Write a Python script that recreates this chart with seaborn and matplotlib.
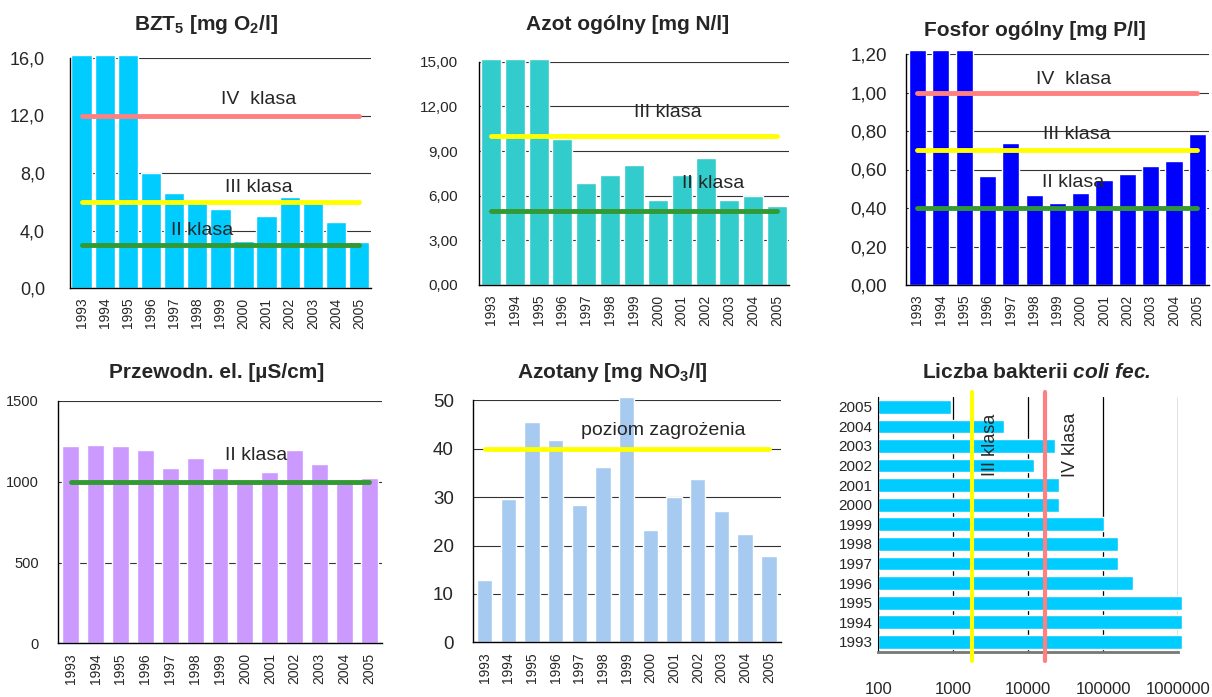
import numpy as np
import matplotlib
matplotlib.use('Agg')
import matplotlib.pyplot as plt
from matplotlib.ticker import FixedLocator, NullLocator
import seaborn as sns

# data
years = ['1993', '1994', '1995', '1996', '1997', '1998', '1999',
         '2000', '2001', '2002', '2003', '2004', '2005']

bzt5 = [16.2, 16.2, 16.2, 8.0, 6.6, 5.95, 5.5, 3.3, 5.0, 6.3, 5.9, 4.6, 3.2]
azot = [15.2, 15.2, 15.2, 9.8, 6.85, 7.4, 8.05, 5.7, 7.4, 8.5, 5.7, 5.95, 5.3]
fosfor = [1.22, 1.22, 1.22, 0.565, 0.74, 0.47, 0.425, 0.48, 0.545, 0.575, 0.62, 0.645, 0.785]
przew = [1221, 1228, 1221, 1197, 1085, 1147, 1085, 1000, 1060, 1197, 1110, 1000, 1023]
azotany = [12.9, 29.6, 45.5, 41.8, 28.4, 36.2, 50.7, 23.2, 30.0, 33.7, 27.1, 22.4, 17.8]
coli = [1120000, 1120000, 1120000, 249000, 157000, 157000, 102000,
        25600, 25600, 11900, 22700, 4740, 930]

# class limits
bzt5_limits = [12, 6, 3]
azot_limits = [10, 5]
fosfor_limits = [1.0, 0.7, 0.4]
przew_limits = [1000]
azotany_limits = [40]
coli_limits = [1750, 16900]

bzt5_ticks = [0, 4, 8, 12, 16]
bzt5_labels = ['0,0', '4,0', '8,0', '12,0', '16,0']
azot_ticks = [0, 3, 6, 9, 12, 15]
azot_labels = ['0,00', '3,00', '6,00', '9,00', '12,00', '15,00']
fosfor_ticks = [0, 0.2, 0.4, 0.6, 0.8, 1.0, 1.2]
fosfor_labels = ['0,00', '0,20', '0,40', '0,60', '0,80', '1,00', '1,20']
przew_ticks = [0, 500, 1000, 1500]
azotany_ticks = [0, 10, 20, 30, 40, 50]
coli_ticks = [100, 1000, 10000, 100000, 1000000]
coli_labels = ['100', '1000', '10000', '100000', '1000000']

sns.set_style('white')
plt.rcParams['font.family'] = ['Liberation Sans', 'DejaVu Sans']
plt.rcParams['mathtext.fontset'] = 'custom'
plt.rcParams['mathtext.rm'] = 'Liberation Sans'
plt.rcParams['mathtext.it'] = 'Liberation Sans:italic'
plt.rcParams['mathtext.bf'] = 'Liberation Sans:bold'
plt.rcParams['mathtext.bfit'] = 'Liberation Sans:italic:bold'

PINK = '#FF8080'
YELLOW = '#FFFF00'
GREEN = '#339933'
W, H = 1212, 697

fig = plt.figure(figsize=(12.12, 6.97), dpi=100)


def box(l, t, r, b):
    return [l / W, 1 - b / H, (r - l) / W, (b - t) / H]


def title(x, y, s):
    fig.text(x / W, 1 - y / H, s, ha='center', va='center', fontsize=15, fontweight='bold')


def vbars(ax, vals, color, width, ticks, ticklabels, top, limits, limit_colors, ytick_fs, ypad, ydir):
    sns.barplot(x=years, y=vals, color=color, saturation=1, width=width, ax=ax)
    for p in ax.patches:
        p.set_clip_on(False)
    for v, c in zip(limits, limit_colors):
        ax.plot([years[0], years[-1]], [v, v], color=c, lw=3.5, solid_capstyle='round', zorder=3)
    ax.set_xlim(-0.5, 12.5)
    ax.set_ylim(0, top)
    ax.set_yticks(ticks)
    ax.set_yticklabels(ticklabels)
    ax.xaxis.set_minor_locator(FixedLocator(np.arange(-0.5, 13, 1)))
    ax.tick_params(axis='x', which='major', length=0, pad=7, labelsize=10, labelrotation=90)
    ax.tick_params(axis='x', which='minor', length=6, direction='inout', width=1)
    ax.tick_params(axis='y', length=9, direction=ydir, width=1, pad=ypad, labelsize=ytick_fs)
    ax.yaxis.grid(True, color='#333333', lw=0.8)
    ax.set_axisbelow(True)
    ax.spines[['top', 'right']].set_visible(False)
    for s in ['left', 'bottom']:
        ax.spines[s].set_color('black')
        ax.spines[s].set_linewidth(1)
    ax.set_xlabel('')
    ax.set_ylabel('')


# BZT5
ax1 = fig.add_axes(box(70, 58, 370.7, 288))
vbars(ax1, bzt5, '#00CCFF', 0.88, bzt5_ticks, bzt5_labels, 16, bzt5_limits,
      [PINK, YELLOW, GREEN], 13, 9, 'out')
ax1.text(7.66, 13.1, 'IV  klasa', ha='center', va='center', fontsize=14)
ax1.text(7.66, 7.0, 'III klasa', ha='center', va='center', fontsize=14)
ax1.text(5.22, 4.0, 'II klasa', ha='center', va='center', fontsize=14)
title(206, 25, r'BZT$_\mathbf{5}$ [mg O$_\mathbf{2}$/l]')

# Azot ogolny
ax2 = fig.add_axes(box(479, 61.7, 789, 285))
vbars(ax2, azot, '#33CCCC', 0.84, azot_ticks, azot_labels, 15, azot_limits,
      [YELLOW, GREEN], 11, 6, 'out')
ax2.text(7.41, 11.6, 'III klasa', ha='center', va='center', fontsize=14)
ax2.text(9.33, 6.85, 'II klasa', ha='center', va='center', fontsize=14)
title(628, 25, 'Azot ogólny [mg N/l]')

# Fosfor ogolny
ax3 = fig.add_axes(box(905.7, 54, 1209, 285))
vbars(ax3, fosfor, '#0000FF', 0.73, fosfor_ticks, fosfor_labels, 1.2, fosfor_limits,
      [PINK, YELLOW, GREEN], 13.5, 9, 'inout')
ax3.text(6.69, 1.065, 'IV  klasa', ha='center', va='center', fontsize=14)
ax3.text(6.82, 0.78, 'III klasa', ha='center', va='center', fontsize=14)
ax3.text(6.69, 0.53, 'II klasa', ha='center', va='center', fontsize=14)
title(1035, 30, 'Fosfor ogólny [mg P/l]')

# Przewodnosc
ax4 = fig.add_axes(box(58.3, 401, 381.7, 643.3))
vbars(ax4, przew, '#CC99FF', 0.68, przew_ticks, [str(t) for t in przew_ticks], 1500,
      przew_limits, [GREEN], 10.5, 5, 'out')
ax4.text(7.44, 1160, 'II klasa', ha='center', va='center', fontsize=14)
title(217, 373, 'Przewodn. el. [µS/cm]')

# Azotany
ax5 = fig.add_axes(box(472.7, 400.3, 780.7, 642.3))
vbars(ax5, azotany, '#A6CAF0', 0.65, azotany_ticks, [str(t) for t in azotany_ticks], 50,
      azotany_limits, [YELLOW], 13.5, 9, 'inout')
ax5.text(7.53, 43.7, 'poziom zagrożenia', ha='center', va='center', fontsize=14)
title(612.5, 373, r'Azotany [mg NO$_\mathbf{3}$/l]')

# Liczba bakterii coli fec.
ax6 = fig.add_axes(box(878.3, 397, 1178.3, 651.7))
sns.barplot(x=coli, y=years, order=years[::-1], orient='h', color='#00CCFF',
            saturation=1, width=0.7, log_scale=True, ax=ax6)
for p in ax6.patches:
    right = p.get_x() + p.get_width()
    p.set_x(coli_ticks[0])
    p.set_width(right - coli_ticks[0])
    p.set_clip_on(False)
for v, c in zip(coli_limits, [YELLOW, PINK]):
    ax6.axvline(v, ymin=-0.035, ymax=1.021, color=c, lw=3, clip_on=False, zorder=3)
ax6.set_xlim(100, 1000000)
ax6.set_ylim(12.5, -0.5)
ax6.set_xticks(coli_ticks)
ax6.set_xticklabels(coli_labels)
ax6.xaxis.set_minor_locator(NullLocator())
ax6.tick_params(axis='x', length=6, direction='out', width=1, pad=16, labelsize=12)
ax6.tick_params(axis='y', length=3, direction='out', width=1, pad=1, labelsize=11)
ax6.xaxis.grid(True, color='black', lw=0.9)
ax6.set_axisbelow(True)
ax6.spines[['top', 'right']].set_visible(False)
ax6.spines['left'].set_color('black')
ax6.spines['bottom'].set_color('#777777')
ax6.spines['bottom'].set_linewidth(2)
ax6.set_xlabel('')
ax6.set_ylabel('')
ax6.text(3090, 1.92, 'III klasa', rotation=90, ha='center', va='center', fontsize=13)
ax6.text(36000, 1.92, 'IV klasa', rotation=90, ha='center', va='center', fontsize=13)
title(1036.7, 373, r'Liczba bakterii $\mathbfit{coli\ fec.}$')

fig.savefig('out.png', dpi=100, facecolor='white')
